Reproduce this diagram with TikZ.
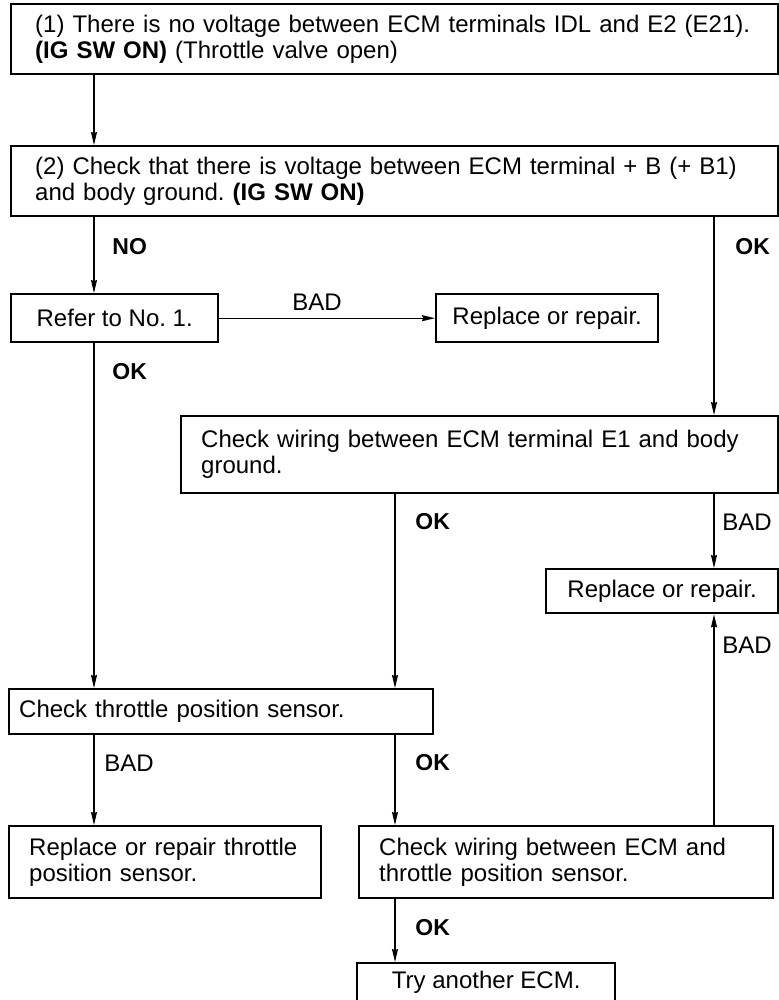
\documentclass[tikz,border=0pt]{standalone}
\usepackage{fontspec}
\setmainfont{Liberation Sans}
\usetikzlibrary{arrows.meta}
\hyphenpenalty=10000
\frenchspacing
\tikzset{
  bx/.style={draw, line width=1.2pt, anchor=north west, inner ysep=0pt,
    font=\fontsize{12pt}{13pt}\selectfont},
  lbox/.style={bx, align=left},
  arr/.style={line width=0.6pt, -{Stealth[length=6.5pt,width=3pt,inset=0.6pt]}},
  okl/.style={anchor=west, inner sep=0pt, font=\fontsize{11.5pt}{12pt}\selectfont\bfseries},
  badl/.style={anchor=west, inner sep=0pt, font=\fontsize{12pt}{12pt}\selectfont}
}
\begin{document}
\begin{tikzpicture}[x=0.5pt,y=-0.5pt]
\useasboundingbox (0,0) rectangle (779,1000);
% columns
\coordinate (cL) at (94,0);
\coordinate (cM) at (395,0);
\coordinate (cR) at (714,0);
% boxes
\node[lbox, minimum width=383.5pt, minimum height=35pt, inner xsep=12pt, text width=359.5pt] (b1) at (10,3)
  {(1) There is no voltage between ECM terminals IDL and E2 (E21).\\\textbf{(IG SW ON)} (Throttle valve open)};
\node[lbox, minimum width=383.5pt, minimum height=35pt, inner xsep=12pt, text width=359.5pt] (b2) at (10,145)
  {(2) Check that there is voltage between ECM terminal + B (+ B1)\\and body ground. \textbf{(IG SW ON)}};
\node[bx, minimum width=103.5pt, minimum height=24pt] (refer) at (10,293) {Refer to No. 1.};
\node[bx, minimum width=111pt, minimum height=24pt] (rep1) at (435,293) {Replace or repair.};
\node[lbox, minimum width=298.5pt, minimum height=38.5pt, inner xsep=10pt, text width=278.5pt] (e1) at (180,415)
  {Check wiring between ECM terminal E1 and body\\ground.};
\node[bx, minimum width=116pt, minimum height=22pt] (rep2) at (545,568) {Replace or repair.};
\node[lbox, minimum width=212pt, minimum height=22.5pt, inner xsep=5pt, text width=202pt] (tps) at (8,688)
  {Check throttle position sensor.};
\node[lbox, minimum width=156pt, minimum height=36pt, inner xsep=10pt, text width=136pt] (reptps) at (8,825)
  {Replace or repair throttle\\position sensor.};
\node[lbox, minimum width=207pt, minimum height=36pt, inner xsep=10pt, text width=187pt] (wire) at (358,825)
  {Check wiring between ECM and\\throttle position sensor.};
\node[bx, minimum width=129pt, minimum height=30pt] (ecm) at (356,962) {};
\node[anchor=north, inner sep=0pt, yshift=-4.5pt, font=\fontsize{12pt}{13pt}\selectfont] (ecmt) at (ecm.north) {Try another ECM.};
% connectors
\draw[arr] (b1.south -| cL) -- (b2.north -| cL);
\draw[arr] (b2.south -| cL) -- (refer.north -| cL);
\draw[arr] (refer.east) -- (rep1.west);
\draw[arr] (refer.south -| cL) -- (tps.north -| cL);
\draw[arr] (b2.south -| cR) -- (e1.north -| cR);
\draw[arr] (e1.south -| cM) -- (tps.north -| cM);
\draw[arr] (e1.south -| cR) -- (rep2.north -| cR);
\draw[arr] (tps.south -| cL) -- (reptps.north -| cL);
\draw[arr] (tps.south -| cM) -- (wire.north -| cM);
\draw[arr] (wire.north -| cR) -- (rep2.south -| cR);
\draw[arr] (wire.south -| cM) -- (ecm.north -| cM);
% labels
\node[okl] (lno) at (112,247) {NO};
\node[okl] (lok1) at (735,247) {OK};
\node[badl] (lbad1) at (292,302) {BAD};
\node[okl] (lok2) at (112,372) {OK};
\node[okl] (lok3) at (415,522) {OK};
\node[badl] (lbad2) at (722,522) {BAD};
\node[badl] (lbad3) at (722,645) {BAD};
\node[badl] (lbad4) at (104,763) {BAD};
\node[okl] (lok4) at (415,763) {OK};
\node[okl] (lok5) at (415,928) {OK};
\end{tikzpicture}
\end{document}
